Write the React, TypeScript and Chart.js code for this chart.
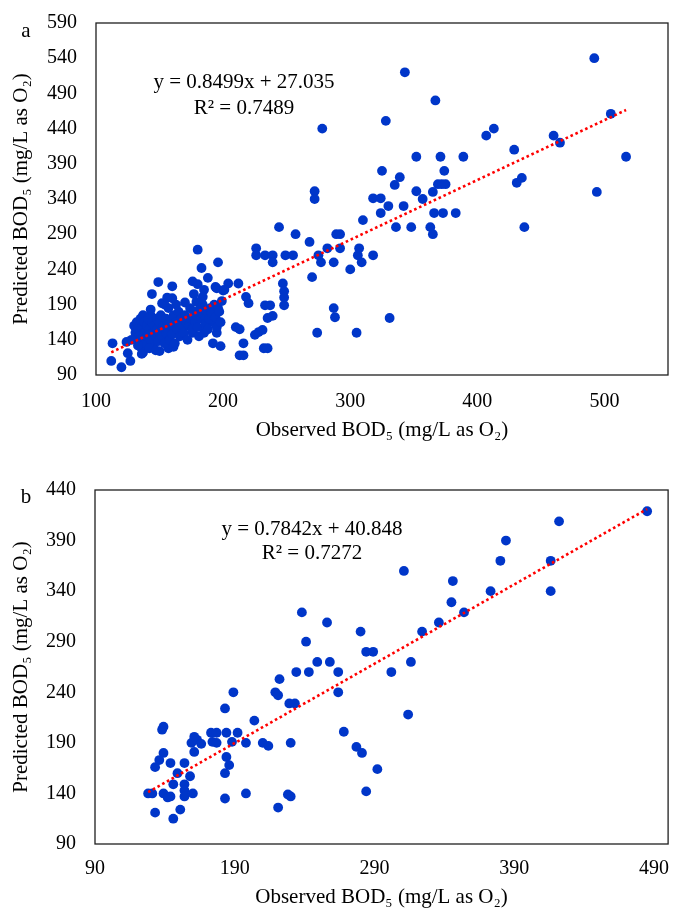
import React, { useEffect, useRef } from 'react';
import { Chart, registerables } from 'chart.js';

Chart.register(...registerables);

const FONT = "'Liberation Serif', 'Times New Roman', serif";

// ---------- Panel a: observed vs predicted BOD5 ----------
const pointsA: [number, number][] = [
  [492, 540], [343, 520], [367, 480], [278, 440], [328, 451], [413, 440], [407, 430], [505, 461], [460, 430], [465, 420],
  [352, 400], [371, 400], [389, 400], [517, 400], [429, 410], [431, 363], [435, 370], [494, 350], [437, 300],
  [325, 380], [374, 380], [339, 371], [335, 360], [369, 361], [372, 361], [375, 361], [272, 351], [272, 340],
  [352, 351], [357, 340], [365, 350], [318, 341], [324, 341], [330, 330], [342, 330], [324, 320], [366, 320], [373, 320], [383, 320],
  [310, 310], [336, 300], [348, 300], [363, 300], [365, 290], [244, 300], [257, 290], [268, 279], [289, 290], [292, 290],
  [226, 270], [226, 260], [233, 260], [239, 260], [239, 250], [249, 260], [255, 260], [282, 270], [292, 270], [275, 260], [277, 250], [287, 250],
  [306, 260], [307, 270], [309, 250], [300, 240], [318, 260], [270, 229], [196, 250],
  [195, 213], [200, 210], [204, 220], [212, 220], [218, 201], [220, 192], [247, 220], [248, 209], [248, 200], [248, 189], [233, 189], [237, 189],
  [287, 185], [288, 172], [331, 171], [274, 150], [305, 150],
  [180, 268], [183, 242], [188, 228], [149, 222], [160, 216], [176, 223], [180, 219], [194, 215], [201, 211], [144, 205], [160, 199], [154, 190],
  [177, 205], [185, 211], [184, 201], [179, 194],
  [210, 158], [213, 155], [216, 135], [213, 118], [216, 118], [225, 147], [228, 151], [231, 154], [232, 128], [235, 128], [235, 171], [239, 174],
  [113, 135], [124, 137], [112, 110], [120, 101], [127, 110], [125, 121], [137, 122], [135, 130], [150, 124], [157, 128], [161, 130],
  [168, 147], [176, 150], [185, 150], [192, 135], [198, 131], [195, 150], [192, 165], [168, 157],
  [130, 160], [131, 150], [132, 165], [133, 155], [134, 145], [135, 170], [135, 140], [136, 158], [137, 175], [138, 150], [138, 165],
  [139, 135], [140, 160], [140, 145], [141, 170], [142, 155], [143, 140], [143, 175], [144, 165], [145, 150], [145, 130], [146, 160],
  [147, 145], [148, 170], [148, 155], [149, 138], [150, 165], [150, 150], [151, 175], [152, 145], [153, 160], [154, 135], [155, 170],
  [155, 150], [156, 155], [157, 185], [158, 165], [158, 140], [160, 158], [160, 148], [161, 175], [162, 135], [163, 165], [164, 155],
  [165, 180], [166, 145], [167, 170], [168, 160], [169, 150], [170, 175], [171, 165], [172, 140], [173, 160], [174, 185], [175, 170],
  [176, 155], [177, 180], [178, 165], [179, 175], [180, 158], [181, 145], [182, 185], [183, 170], [184, 190], [185, 175], [186, 162],
  [187, 180], [188, 155], [189, 170], [190, 185], [191, 178], [193, 190], [194, 172], [196, 185], [197, 180], [199, 195], [195, 158],
  [198, 165], [142, 128], [147, 125], [133, 132], [128, 140], [136, 120], [143, 183], [152, 192], [156, 200], [163, 190], [170, 193],
];
const slopeA = 0.8499;
const interceptA = 27.035;
const r2A = 0.7489;
const xTicksA = [100, 200, 300, 400, 500];
const yTicksA = [90, 140, 190, 240, 290, 340, 390, 440, 490, 540, 590];

// ---------- Panel b ----------
const pointsB: [number, number][] = [
  [485, 419], [422, 409], [384, 390], [380, 370], [416, 370], [416, 340], [346, 350], [345, 329], [373, 340], [354, 319],
  [336, 309], [324, 300], [311, 360], [316, 270], [314, 218], [302, 260], [280, 300], [284, 280], [289, 280], [256, 309],
  [238, 319], [241, 290], [249, 270], [258, 270], [243, 260], [234, 260], [264, 260], [264, 240], [222, 253], [219, 240],
  [221, 237], [229, 229], [233, 229], [268, 201], [230, 190], [277, 186], [281, 180], [292, 164], [284, 142],
  [128, 140], [131, 140], [133, 121], [146, 115], [151, 124], [133, 166], [139, 140], [142, 136], [139, 180], [136, 173],
  [138, 203], [139, 206], [144, 170], [146, 149], [149, 160], [154, 170], [154, 149], [154, 143], [154, 137], [158, 157],
  [160, 140], [161, 181], [159, 190], [163, 193], [161, 196], [166, 189], [173, 200], [177, 200], [174, 191], [177, 190],
  [184, 200], [183, 224], [189, 240], [188, 191], [192, 200], [198, 190], [184, 176], [186, 168], [183, 160], [183, 135],
  [198, 140], [204, 212], [210, 190], [214, 187], [221, 126], [228, 139], [230, 137], [144, 137],
];
const slopeB = 0.7842;
const interceptB = 40.848;
const r2B = 0.7272;
const xTicksB = [90, 190, 290, 390, 490];
const yTicksB = [90, 140, 190, 240, 290, 340, 390, 440];

const X_TITLE = 'Observed BOD\u2085 (mg/L as O\u2082)';
const Y_TITLE = 'Predicted BOD\u2085 (mg/L as O\u2082)';

interface PanelSpec {
  label: string;
  points: [number, number][];
  slope: number;
  intercept: number;
  r2: number;
  xTicks: number[];
  yTicks: number[];
  xMin: number;
  xMax: number;
  yMin: number;
  yMax: number;
  height: number;
  padTop: number;
  padRight: number;
  yAxisWidth: number;
  xAxisHeight: number;
  xTickPad: number;
  xTitlePad: number;
  labelPos: [number, number];
  eqPos: [number, number, number];
}

const specA: PanelSpec = {
  label: 'a', points: pointsA, slope: slopeA, intercept: interceptA, r2: r2A,
  xTicks: xTicksA, yTicks: yTicksA, xMin: 100, xMax: 550, yMin: 90, yMax: 590,
  height: 455, padTop: 23, padRight: 5, yAxisWidth: 96, xAxisHeight: 80, xTickPad: 15, xTitlePad: 12,
  labelPos: [26, 37], eqPos: [244, 82, 108],
};

const specB: PanelSpec = {
  label: 'b', points: pointsB, slope: slopeB, intercept: interceptB, r2: r2B,
  xTicks: xTicksB, yTicks: yTicksB, xMin: 90, xMax: 500, yMin: 90, yMax: 440,
  height: 456, padTop: 35, padRight: 4, yAxisWidth: 95, xAxisHeight: 67, xTickPad: 13, xTitlePad: 1,
  labelPos: [26, 48], eqPos: [312, 74, 98],
};

const decorPlugin = {
  id: 'decor',
  beforeDatasetsDraw(chart: any, _args: any, opts: any) {
    const { ctx, chartArea } = chart;
    ctx.save();
    ctx.strokeStyle = '#1f1f1f';
    ctx.lineWidth = 1.3;
    ctx.strokeRect(chartArea.left, chartArea.top, chartArea.right - chartArea.left, chartArea.bottom - chartArea.top);
    ctx.restore();
  },
  afterDraw(chart: any, _args: any, opts: any) {
    const { ctx } = chart;
    ctx.save();
    ctx.fillStyle = '#000';
    ctx.font = `21px ${FONT}`;
    ctx.textAlign = 'center';
    ctx.textBaseline = 'alphabetic';
    ctx.fillText(opts.label, opts.labelPos[0], opts.labelPos[1]);
    ctx.textBaseline = 'middle';
    ctx.fillText(opts.eq1, opts.eqPos[0], opts.eqPos[1]);
    ctx.fillText(opts.eq2, opts.eqPos[0], opts.eqPos[2]);
    ctx.restore();
  },
};

function buildConfig(s: PanelSpec): any {
  const xs = s.points.map((p) => p[0]);
  const lo = Math.min(...xs);
  const hi = Math.max(...xs);
  const trend = [lo, hi].map((x) => ({ x, y: s.slope * x + s.intercept }));
  const tickFont = { family: FONT, size: 20 };
  const titleFont = { family: FONT, size: 21 };
  return {
    type: 'scatter',
    data: {
      datasets: [
        {
          type: 'line',
          data: trend,
          showLine: true,
          borderColor: '#ff0000',
          borderWidth: 2.6,
          borderDash: [2.6, 2.8],
          pointRadius: 0,
          fill: false,
        },
        {
          type: 'scatter',
          data: s.points.map(([x, y]) => ({ x, y })),
          pointRadius: 4.9,
          pointBackgroundColor: '#0036C9',
          pointBorderWidth: 0,
          backgroundColor: '#0036C9',
          borderColor: '#0036C9',
        },
      ],
    },
    options: {
      responsive: false,
      animation: false,
      devicePixelRatio: 1,
      layout: { padding: { top: s.padTop, right: s.padRight, left: 0, bottom: 0 } },
      plugins: {
        legend: { display: false },
        tooltip: { enabled: false },
        decor: {
          label: s.label,
          labelPos: s.labelPos,
          eqPos: s.eqPos,
          eq1: `y = ${s.slope.toFixed(4)}x + ${s.intercept.toFixed(3)}`,
          eq2: `R\u00B2 = ${s.r2.toFixed(4)}`,
        },
      },
      scales: {
        x: {
          type: 'linear',
          min: s.xMin,
          max: s.xMax,
          afterBuildTicks: (sc: any) => { sc.ticks = s.xTicks.map((v) => ({ value: v })); },
          afterFit: (sc: any) => { sc.height = s.xAxisHeight; sc.paddingLeft = 0; sc.paddingRight = 0; },
          grid: { display: false, drawTicks: false },
          border: { display: false },
          ticks: { autoSkip: false, maxRotation: 0, padding: s.xTickPad, color: '#000', font: tickFont },
          title: { display: true, text: X_TITLE, color: '#000', font: titleFont, padding: { top: 0, bottom: s.xTitlePad } },
        },
        y: {
          type: 'linear',
          min: s.yMin,
          max: s.yMax,
          afterBuildTicks: (sc: any) => { sc.ticks = s.yTicks.map((v) => ({ value: v })); },
          afterFit: (sc: any) => { sc.width = s.yAxisWidth; sc.paddingTop = 0; sc.paddingBottom = 0; },
          grid: { display: false, drawTicks: false },
          border: { display: false },
          ticks: { autoSkip: false, padding: 19, color: '#000', font: tickFont },
          title: { display: true, text: Y_TITLE, color: '#000', font: titleFont, padding: { top: 9, bottom: 0 } },
        },
      },
    },
    plugins: [decorPlugin],
  };
}

function Panel({ spec }: { spec: PanelSpec }) {
  const ref = useRef<HTMLCanvasElement>(null);
  useEffect(() => {
    const chart = new Chart(ref.current as HTMLCanvasElement, buildConfig(spec));
    return () => chart.destroy();
  }, [spec]);
  return (
    <canvas
      ref={ref}
      width={673}
      height={spec.height}
      style={{ display: 'block', width: 673, height: spec.height }}
    />
  );
}

export default function App() {
  return (
    <div style={{ position: 'absolute', left: 0, top: 0, width: 673, height: 911, background: '#fff' }}>
      <Panel spec={specA} />
      <Panel spec={specB} />
    </div>
  );
}
